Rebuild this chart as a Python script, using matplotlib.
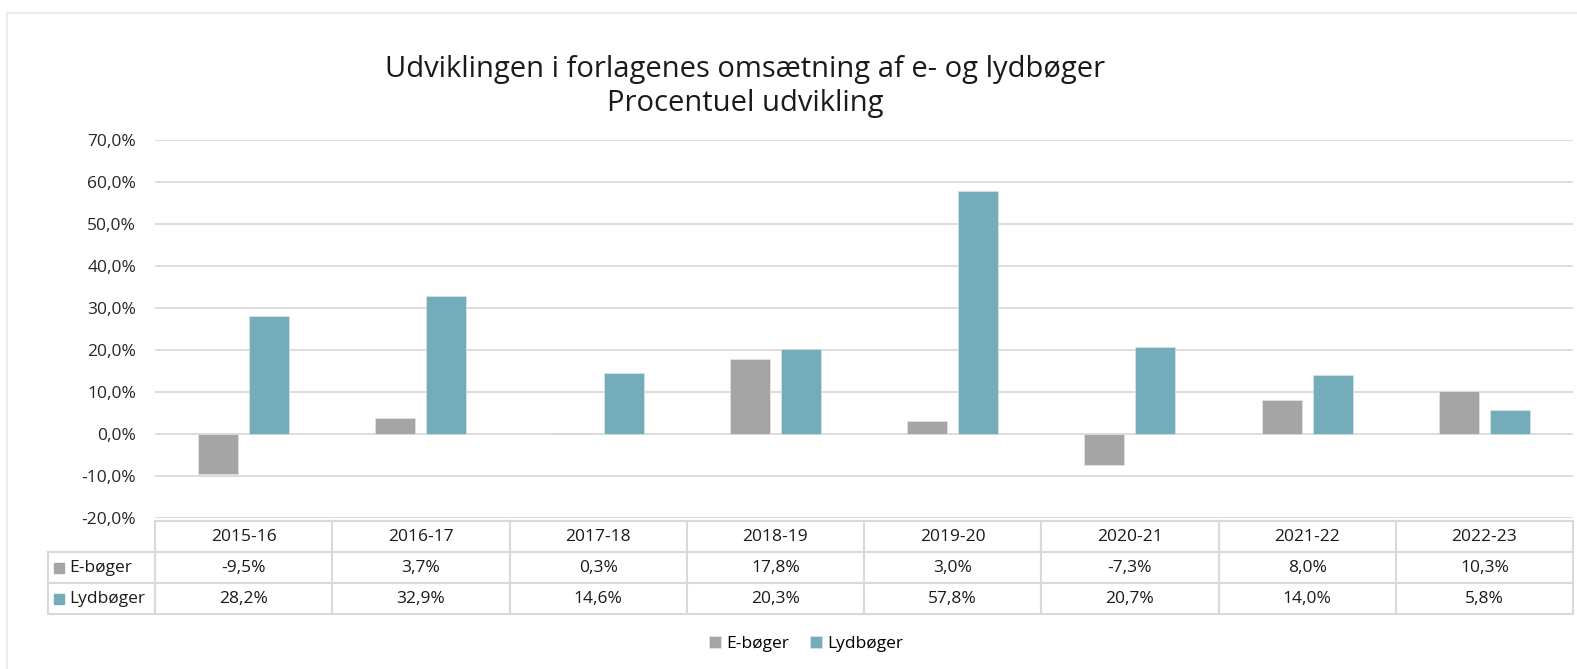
import matplotlib
matplotlib.use("Agg")
import matplotlib.pyplot as plt
from matplotlib.patches import Rectangle
from matplotlib.table import Table
import numpy as np

periods = ["2015-16", "2016-17", "2017-18", "2018-19", "2019-20", "2020-21", "2021-22", "2022-23"]
ebooks = [-9.5, 3.7, 0.3, 17.8, 3.0, -7.3, 8.0, 10.3]
audiobooks = [28.2, 32.9, 14.6, 20.3, 57.8, 20.7, 14.0, 5.8]
series_names = ["E-bøger", "Lydbøger"]
colors = ["#A5A5A5", "#73ADBA"]
grid_color = "#D9D9D9"

plt.rcParams["font.family"] = ["Open Sans", "DejaVu Sans"]


def pct(v):
    return f"{v:.1f}".replace(".", ",") + "%"


fig = plt.figure(figsize=(15.77, 6.69), dpi=100)
W, H = 1577, 669

# faint outer frame (only left/top visible)
fig.patches.append(Rectangle((7 / W, -0.1), 1.2, (H - 13) / H + 0.1, transform=fig.transFigure,
                             fill=False, edgecolor="#EEEAE4", linewidth=1.5))

ax = fig.add_axes([155 / W, (H - 518) / H, (1573 - 155) / W, (518 - 140) / H])

x = np.arange(len(periods))
bw, off = 0.226, 0.144
ax.bar(x - off, ebooks, bw, color=colors[0], edgecolor="#E4E4E4", linewidth=0.5, label=series_names[0], zorder=3)
ax.bar(x + off, audiobooks, bw, color=colors[1], edgecolor="#D5E6EA", linewidth=0.5, label=series_names[1], zorder=3)

ax.set_xlim(-0.5, len(periods) - 0.5)
ax.set_ylim(-20, 70)
ax.set_yticks(np.arange(-20, 71, 10))
ax.set_yticklabels([pct(v) for v in np.arange(-20, 71, 10)], fontsize=12.5, color="#262626")
ax.set_xticks([])
ax.tick_params(axis="y", length=0, pad=13.5)
ax.grid(axis="y", color=grid_color, linewidth=1.3, zorder=0)
for s in ax.spines.values():
    s.set_visible(False)

# data table under the axes: column 0 holds the series names
col_w = 1.0 / len(periods)
lab_w = 107 / 1418
row_h = 31 / 378
tbl = Table(ax, bbox=[-lab_w, -3 * row_h - 0.008, 1 + lab_w, 3 * row_h])
corner = tbl.add_cell(0, 0, lab_w, row_h, text="")
corner.visible_edges = "open"
for j, p in enumerate(periods, start=1):
    tbl.add_cell(0, j, col_w, row_h, text=p, loc="center")
for i, vals in enumerate([ebooks, audiobooks], start=1):
    c = tbl.add_cell(i, 0, lab_w, row_h, text=series_names[i - 1], loc="left")
    c.PAD = 0.2
    for j, v in enumerate(vals, start=1):
        tbl.add_cell(i, j, col_w, row_h, text=pct(v), loc="center")
tbl.auto_set_font_size(False)
tbl.set_fontsize(12.5)
for cell in tbl.get_celld().values():
    cell.set_edgecolor(grid_color)
    cell.set_linewidth(1.5)
    cell.get_text().set_color("#1a1a1a")
ax.add_table(tbl)

# coloured keys in the row labels
sq = 10
for i in range(2):
    yc = -0.008 - row_h * (1.5 + i)
    ax.add_patch(Rectangle((-lab_w + 6 / 1418, yc - sq / 378 / 2), sq / 1418, sq / 378,
                           transform=ax.transAxes, color=colors[i], clip_on=False))

fig.text(745 / W, 1 - 69 / H, "Udviklingen i forlagenes omsætning af e- og lydbøger",
         ha="center", va="center", fontsize=21, color="#1a1a1a")
fig.text(745 / W, 1 - 103 / H, "Procentuel udvikling",
         ha="center", va="center", fontsize=21, color="#1a1a1a")

fig.legend(loc="center", bbox_to_anchor=(806 / W, 1 - 644 / H), ncol=2, frameon=False,
           fontsize=12.5, handlelength=0.7, handleheight=0.7, handletextpad=0.3, columnspacing=1.2)

fig.savefig("out.png", dpi=100)
